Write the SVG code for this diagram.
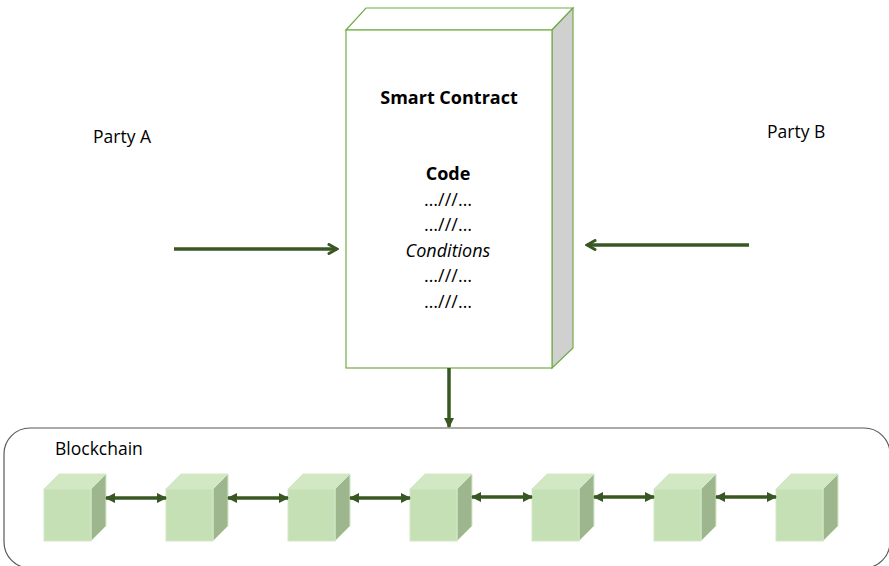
<svg xmlns="http://www.w3.org/2000/svg" width="889" height="566" viewBox="0 0 889 566">
<style>
text{font-family:"Open Sans","Liberation Sans",sans-serif;fill:#000;}
.lbl{font-size:17.5px;}
.c{font-size:18px;text-anchor:middle;}
.b{font-weight:bold;}
.conn{stroke:#385723;stroke-width:3.5;fill:none;}
.front{fill:#c5e0b4;stroke:#d3e8c6;stroke-width:1;}
.top{fill:#d2e7c4;stroke:#d3e8c6;stroke-width:1;}
.side{fill:#9db68d;stroke:#d3e8c6;stroke-width:1;}
</style>
<defs>
<marker id="chev" viewBox="0 0 12 12" refX="10" refY="6" markerWidth="12" markerHeight="12" markerUnits="userSpaceOnUse" orient="auto">
<path d="M2,1.5 L10,6 L2,10.5" fill="none" stroke="#385723" stroke-width="3" stroke-linecap="round" stroke-linejoin="miter"/>
</marker>
<marker id="tri" viewBox="0 0 10 10" refX="9" refY="5" markerWidth="10" markerHeight="10" markerUnits="userSpaceOnUse" orient="auto-start-reverse">
<path d="M0,0 L10,5 L0,10 Z" fill="#385723"/>
</marker>
<g id="cube">
<polygon class="top" points="0,15 15,0 62,0 47,15"/>
<polygon class="side" points="47,15 62,0 62,52 47,67"/>
<rect class="front" x="0" y="15" width="47" height="52"/>
</g>
</defs>
<rect width="889" height="566" fill="#fff"/>

<g id="blockchain">
<rect x="4" y="428" width="886" height="140" rx="26" ry="26" fill="none" stroke="#595959" stroke-width="1.2"/>
<text class="lbl" x="55" y="455">Blockchain</text>
</g>

<g id="smart-contract">
<polygon points="346,30 366,8 573,8 552,30" fill="#fff" stroke="#70ad47" stroke-width="1.2"/>
<polygon points="552,30 573,8 573,348 552,368" fill="#d0d0d0" stroke="#70ad47" stroke-width="1.2"/>
<rect x="346" y="30" width="206" height="338" fill="#fff" stroke="#70ad47" stroke-width="1.2"/>
<text class="c b" x="449" y="104" font-size="17.5">Smart Contract</text>
<text class="c b" x="448" y="180">Code</text>
<text class="c" x="448" y="205.5">…///…</text>
<text class="c" x="448" y="231">…///…</text>
<text class="c" x="448" y="256.5" font-style="italic">Conditions</text>
<text class="c" x="448" y="282">…///…</text>
<text class="c" x="448" y="307.5">…///…</text>
</g>

<g id="party-a"><text class="lbl" x="93" y="143">Party A</text></g>
<g id="party-b"><text class="lbl" x="767" y="138">Party B</text></g>

<g id="block1"><use href="#cube" x="44" y="474"/></g>
<g id="block2"><use href="#cube" x="166" y="474"/></g>
<g id="block3"><use href="#cube" x="288" y="474"/></g>
<g id="block4"><use href="#cube" x="410" y="474"/></g>
<g id="block5"><use href="#cube" x="532" y="474"/></g>
<g id="block6"><use href="#cube" x="654" y="474"/></g>
<g id="block7"><use href="#cube" x="776" y="474"/></g>

<g id="connectors">
<line class="conn" x1="174" y1="249" x2="337" y2="249" marker-end="url(#chev)"/>
<line class="conn" x1="749" y1="245" x2="587" y2="245" marker-end="url(#chev)"/>
<line class="conn" x1="449" y1="368" x2="449" y2="427" stroke-width="4" marker-end="url(#tri)"/>
<line class="conn" stroke-width="3" x1="106" y1="498" x2="166" y2="498" marker-start="url(#tri)" marker-end="url(#tri)"/>
<line class="conn" stroke-width="3" x1="228" y1="498" x2="288" y2="498" marker-start="url(#tri)" marker-end="url(#tri)"/>
<line class="conn" stroke-width="3" x1="350" y1="498" x2="410" y2="498" marker-start="url(#tri)" marker-end="url(#tri)"/>
<line class="conn" stroke-width="3" x1="472" y1="497" x2="532" y2="497" marker-start="url(#tri)" marker-end="url(#tri)"/>
<line class="conn" stroke-width="3" x1="594" y1="497" x2="654" y2="497" marker-start="url(#tri)" marker-end="url(#tri)"/>
<line class="conn" stroke-width="3" x1="716" y1="497" x2="776" y2="497" marker-start="url(#tri)" marker-end="url(#tri)"/>
</g>
</svg>
